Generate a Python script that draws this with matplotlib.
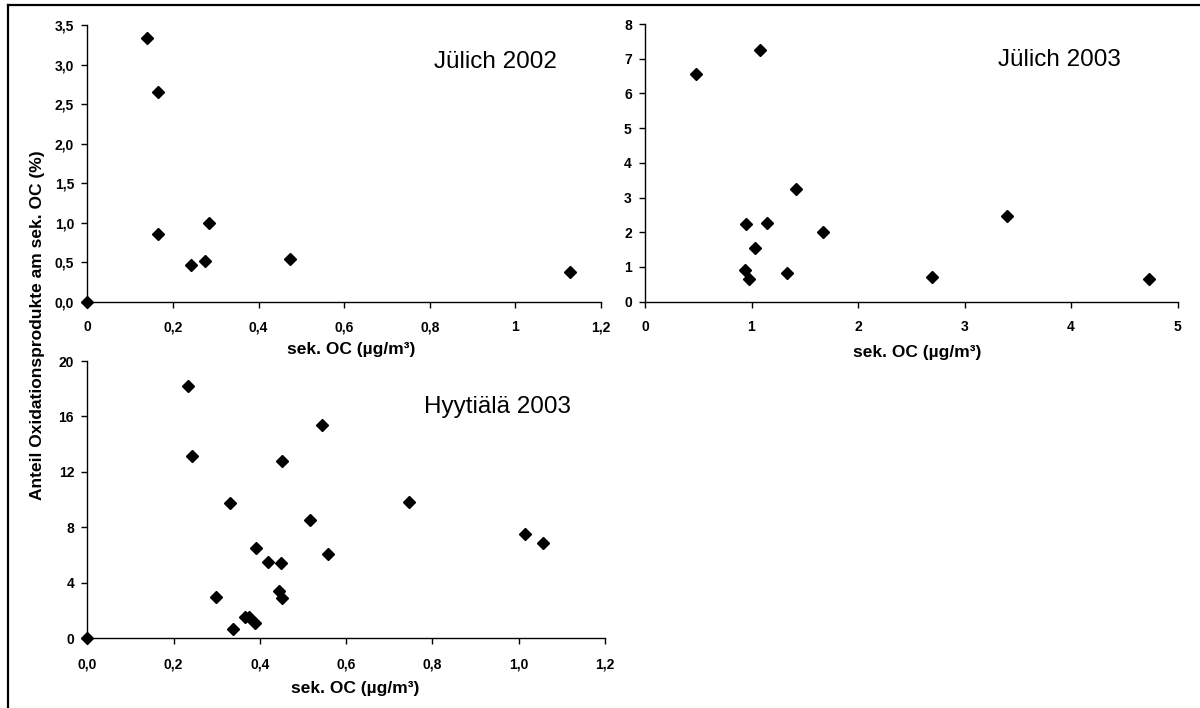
import matplotlib
matplotlib.use("Agg")
import matplotlib.pyplot as plt
from matplotlib.lines import Line2D

plt.rcParams["font.family"] = ["Liberation Sans", "DejaVu Sans"]

# Jülich 2002
j02_x = [0.0, 0.14, 0.164, 0.166, 0.243, 0.275, 0.285, 0.474, 1.127]
j02_y = [0.0, 3.34, 2.65, 0.86, 0.47, 0.51, 1.00, 0.54, 0.38]

# Jülich 2003
j03_x = [0.483, 1.081, 1.42, 0.944, 1.146, 1.673, 1.035, 0.937, 0.98, 1.334, 2.696, 3.396, 4.73]
j03_y = [6.55, 7.25, 3.25, 2.24, 2.27, 2.01, 1.55, 0.91, 0.645, 0.84, 0.71, 2.48, 0.65]

# Hyytiälä 2003
hy_x = [0.0, 0.233, 0.242, 0.544, 0.452, 0.331, 0.746, 0.516, 0.39, 0.42, 0.45,
        0.557, 1.015, 1.056, 0.298, 0.445, 0.452, 0.338, 0.365, 0.375, 0.388]
hy_y = [0.0, 18.22, 13.15, 15.41, 12.79, 9.78, 9.8, 8.56, 6.49, 5.53, 5.46,
        6.11, 7.52, 6.9, 3.0, 3.39, 2.88, 0.65, 1.51, 1.56, 1.08]

j02_xticks = [0, 0.2, 0.4, 0.6, 0.8, 1.0, 1.2]
j02_xlabels = ["0", "0,2", "0,4", "0,6", "0,8", "1", "1,2"]
j02_yticks = [0, 0.5, 1.0, 1.5, 2.0, 2.5, 3.0, 3.5]
j02_ylabels = ["0,0", "0,5", "1,0", "1,5", "2,0", "2,5", "3,0", "3,5"]

j03_xticks = [0, 1, 2, 3, 4, 5]
j03_yticks = [0, 1, 2, 3, 4, 5, 6, 7, 8]

hy_xticks = [0, 0.2, 0.4, 0.6, 0.8, 1.0, 1.2]
hy_xlabels = ["0,0", "0,2", "0,4", "0,6", "0,8", "1,0", "1,2"]
hy_yticks = [0, 4, 8, 12, 16, 20]

XLABEL = "sek. OC (µg/m³)"
YLABEL = "Anteil Oxidationsprodukte am sek. OC (%)"

W, H = 1200, 708
fig = plt.figure(figsize=(12, 7.08), dpi=100)
fig.patch.set_facecolor("white")


def box(l, r, t, b):
    return [l / W, 1 - b / H, (r - l) / W, (b - t) / H]


def style(ax):
    for s in ["top", "right"]:
        ax.spines[s].set_visible(False)
    for s in ["left", "bottom"]:
        ax.spines[s].set_linewidth(1.0)
        ax.spines[s].set_color("black")
    ax.tick_params(direction="out", length=4, width=1.0, labelsize=10)
    ax.tick_params(axis="x", pad=9.5)
    ax.tick_params(axis="y", pad=5.5)
    for lab in ax.get_xticklabels() + ax.get_yticklabels():
        lab.set_fontweight("bold")


mk = dict(marker="D", ms=6.2, color="black", linestyle="none", clip_on=False, zorder=5)
PANEL_FS = 17.5
XL_FS = 12.5

# ── Jülich 2002 ──
ax1 = fig.add_axes(box(87.3, 601, 25, 301.7))
ax1.plot(j02_x, j02_y, **mk)
ax1.set_xlim(0, 1.2)
ax1.set_ylim(0, 3.5)
ax1.set_xticks(j02_xticks, j02_xlabels)
ax1.set_yticks(j02_yticks, j02_ylabels)
style(ax1)
fig.text(495 / W, 1 - 62 / H, "Jülich 2002", fontsize=PANEL_FS, ha="center", va="center")
fig.text(351 / W, 1 - 350 / H, XLABEL, fontsize=XL_FS, fontweight="bold",
         ha="center", va="center")

# ── Jülich 2003 ──
ax2 = fig.add_axes(box(645, 1177.5, 24, 301.7))
ax2.plot(j03_x, j03_y, **mk)
ax2.set_xlim(0, 5)
ax2.set_ylim(0, 8)
ax2.set_xticks(j03_xticks, [str(v) for v in j03_xticks])
ax2.set_yticks(j03_yticks, [str(v) for v in j03_yticks])
style(ax2)
fig.text(1059 / W, 1 - 60 / H, "Jülich 2003", fontsize=PANEL_FS, ha="center", va="center")
fig.text(917 / W, 1 - 352 / H, XLABEL, fontsize=XL_FS, fontweight="bold",
         ha="center", va="center")

# ── Hyytiälä 2003 ──
ax3 = fig.add_axes(box(87.3, 605, 361, 638.3))
ax3.plot(hy_x, hy_y, **mk)
ax3.set_xlim(0, 1.2)
ax3.set_ylim(0, 20)
ax3.set_xticks(hy_xticks, hy_xlabels)
ax3.set_yticks(hy_yticks, [str(v) for v in hy_yticks])
style(ax3)
fig.text(497 / W, 1 - 407 / H, "Hyytiälä 2003", fontsize=PANEL_FS, ha="center", va="center")
fig.text(355 / W, 1 - 689 / H, XLABEL, fontsize=XL_FS, fontweight="bold",
         ha="center", va="center")

# shared y label
fig.text(38 / W, 1 - 325 / H, YLABEL, fontsize=12.5, fontweight="bold",
         rotation=90, ha="center", va="center")

# frame lines (left and top)
fig.add_artist(Line2D([7.5 / W, 7.5 / W], [0, 1 - 4.5 / H], transform=fig.transFigure,
                      color="black", lw=1.6))
fig.add_artist(Line2D([7.5 / W, 1], [1 - 4.5 / H, 1 - 4.5 / H], transform=fig.transFigure,
                      color="black", lw=1.6))

fig.savefig("out.png", dpi=100, facecolor="white")
